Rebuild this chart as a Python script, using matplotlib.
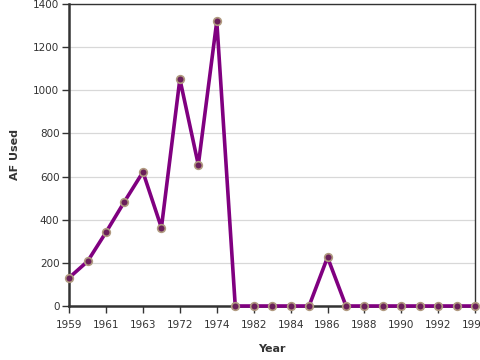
import matplotlib
matplotlib.use('Agg')
import matplotlib.pyplot as plt

years = ['1959', '1960', '1961', '1962', '1963', '1964', '1972', '1973', '1974', '1975',
         '1982', '1983', '1984', '1985', '1986', '1987', '1988', '1989', '1990', '1991',
         '1992', '1993', '1994']
af_used = [131, 207, 342, 484, 621, 363, 1052, 654, 1320, 0,
           0, 0, 0, 0, 226, 0, 0, 0, 0, 0,
           0, 0, 0]

fig = plt.figure(figsize=(4.8, 3.6), dpi=100)
ax = fig.add_axes([0.144, 0.15, 0.846, 0.839])

x = list(range(len(years)))
ax.plot(x, af_used, color='#800080', linewidth=2.6, zorder=3,
        marker='o', markersize=5.5, markerfacecolor='#6a1f5a',
        markeredgecolor='#b09a80', markeredgewidth=1.2, clip_on=False)

ax.set_xlim(0, len(years) - 1)
ax.set_ylim(0, 1400)
ax.set_xticks(x[::2])
ax.set_xticklabels(years[::2])
ax.set_yticks(range(0, 1401, 200))

ax.grid(axis='y', color='#d8d8d8', linewidth=0.9)
ax.set_axisbelow(True)

for side in ['left', 'bottom']:
    ax.spines[side].set_linewidth(1.8)
    ax.spines[side].set_color('#333333')
for side in ['top', 'right']:
    ax.spines[side].set_linewidth(1.0)
    ax.spines[side].set_color('#333333')

ax.tick_params(axis='both', length=5, width=1, color='#333333',
               labelsize=7.5, labelcolor='#333333', pad=2)
ax.tick_params(axis='x', pad=5)

ax.set_xlabel('Year', fontsize=8, fontweight='bold', color='#333333')
ax.xaxis.set_label_coords(0.5, -0.125)
ax.set_ylabel('AF Used', fontsize=8, fontweight='bold', color='#333333')
ax.yaxis.set_label_coords(-0.12, 0.5)

fig.savefig('out.png', dpi=100)
